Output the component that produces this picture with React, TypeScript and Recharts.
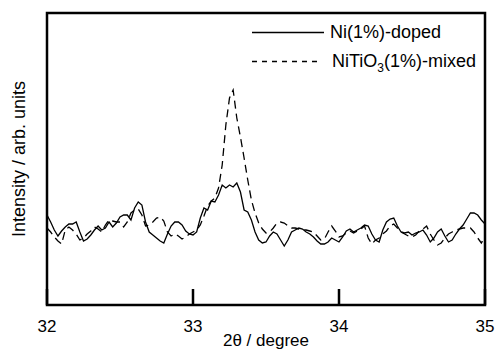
import { Label, Legend, Line, LineChart, ReferenceArea, XAxis, YAxis } from "recharts";

// 2-theta grid, 0.025 deg steps from 32 to 35
const twoTheta: number[] = Array.from({ length: 121 }, (_, i) => +(32 + i * 0.025).toFixed(3));

// Ni(1%)-doped (solid)
const doped = [
  90, 83, 75, 69, 74, 78, 81, 81, 83, 73,
  64, 66, 70, 75, 79, 75, 77, 83, 78, 82,
  88, 90, 90, 85, 97, 103, 100, 83, 73, 70,
  67, 64, 62, 71, 79, 83, 83, 80, 74, 71,
  70, 73, 87, 97, 95, 104, 103, 110, 120, 117,
  120, 118, 122, 113, 95, 93, 85, 73, 65, 62,
  63, 69, 73, 71, 65, 59, 65, 73, 75, 77,
  76, 73, 71, 68, 64, 61, 61, 63, 67, 65,
  63, 68, 74, 76, 73, 75, 77, 80, 79, 71,
  65, 63, 75, 83, 86, 87, 79, 73, 72, 73,
  70, 72, 73, 75, 70, 63, 67, 73, 76, 69,
  63, 65, 71, 76, 80, 86, 92, 92, 90, 85,
  81,
];

// NiTiO3(1%)-mixed (dashed)
const mixed = [
  77, 73, 68, 64, 61, 75, 78, 75, 71, 65,
  67, 71, 74, 78, 76, 73, 80, 85, 84, 83,
  83, 78, 83, 92, 95, 96, 90, 79, 80, 83,
  87, 88, 84, 73, 69, 71, 69, 66, 68, 71,
  73, 75, 80, 89, 99, 104, 107, 117, 140, 180,
  207, 215, 187, 168, 147, 125, 105, 92, 82, 76,
  72, 73, 77, 82, 83, 82, 79, 77, 77, 76,
  75, 75, 74, 73, 69, 65, 66, 73, 79, 74,
  68, 69, 72, 74, 72, 74, 76, 79, 67, 61,
  65, 67, 71, 74, 79, 81, 77, 73, 71, 69,
  68, 70, 74, 76, 79, 71, 65, 60, 62, 67,
  71, 73, 75, 76, 77, 77, 77, 73, 67, 62,
  68,
];

const xTicks = [32, 33, 34, 35];

const data = twoTheta.map((t, i) => ({ t, doped: doped[i], mixed: mixed[i] }));

const font = "'Liberation Sans', Arial, Helvetica, sans-serif";

function LegendBox() {
  return (
    <div style={{ fontFamily: font, fontSize: 18, color: "#000" }}>
      <div style={{ display: "flex", alignItems: "center", height: 29 }}>
        <svg width={72} height={29}>
          <line x1={0} y1={14.5} x2={72} y2={14.5} stroke="#000" strokeWidth={1.3} />
        </svg>
        <span style={{ marginLeft: 6 }}>Ni(1%)-doped</span>
      </div>
      <div style={{ display: "flex", alignItems: "center", height: 29 }}>
        <svg width={66} height={29}>
          <line x1={0} y1={14.5} x2={66} y2={14.5} stroke="#000" strokeWidth={1.3} strokeDasharray="5 5" />
        </svg>
        <span style={{ marginLeft: 14 }}>
          NiTiO<sub style={{ fontSize: 12, lineHeight: 0 }}>3</sub>(1%)-mixed
        </span>
      </div>
    </div>
  );
}

export default function App() {
  return (
    <div style={{ position: "absolute", left: 0, top: 0, background: "#fff" }}>
      <LineChart width={500} height={356} data={data} margin={{ top: 13, right: 15, bottom: 0, left: 0 }}>
        <XAxis
          dataKey="t"
          type="number"
          domain={[32, 35]}
          ticks={xTicks}
          height={51}
          axisLine={false}
          tickLine={{ stroke: "#000", strokeWidth: 2.5 }}
          tickSize={-16}
          tickMargin={31}
          tick={{ fill: "#000", fontSize: 17, fontFamily: font }}
        >
          <Label value="2θ / degree" position="insideBottom" offset={10} fill="#000" fontSize={17} fontFamily={font} />
        </XAxis>
        <YAxis width={47} domain={[0, 292]} tick={false} axisLine={false} tickLine={false}>
          <Label
            value="Intensity / arb. units"
            position="center"
            angle={-90}
            dx={-4.5}
            fill="#000"
            fontSize={18}
            fontFamily={font}
          />
        </YAxis>
        <ReferenceArea x1={32} x2={35} y1={0} y2={292} fill="none" stroke="#000" strokeWidth={2.5} />
        <Legend
          layout="horizontal"
          verticalAlign="middle"
          align="center"
          wrapperStyle={{ left: 252, top: 18, width: 240 }}
          content={() => <LegendBox />}
        />
        <Line type="linear" dataKey="doped" stroke="#000" strokeWidth={1.3} dot={false} isAnimationActive={false} />
        <Line
          type="linear"
          dataKey="mixed"
          stroke="#000"
          strokeWidth={1.3}
          strokeDasharray="8 5"
          dot={false}
          isAnimationActive={false}
        />
      </LineChart>
    </div>
  );
}
